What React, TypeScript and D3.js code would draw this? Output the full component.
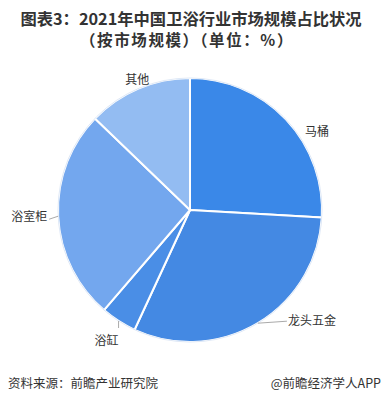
import React from "react";
import * as d3 from "d3";

const categories = ["马桶", "龙头五金", "浴缸", "浴室柜", "其他"];
const values = [25.9, 31.0, 4.4, 25.9, 12.8];
const colors = ["#3a88e8", "#4489e3", "#4a8ee6", "#73a7ee", "#93bcf2"];
// label layout: offset of label anchor from the slice's outer mid-point, and anchor
const labelLayout = [
  { dx: 19, dy: 11, anchor: "start", line: false, lx: 0, ly: 0 },
  { dx: 30, dy: -4, anchor: "start", line: true, lx: 29, ly: -2 },
  { dx: 0, dy: 18, anchor: "end", line: true, lx: 0, ly: 7 },
  { dx: -11, dy: -1, anchor: "end", line: true, lx: -9, ly: 3 },
  { dx: -1, dy: -10, anchor: "middle", line: false, lx: 0, ly: 0 },
];

const W = 384, H = 405;
const cx = 190, cy = 210, R = 132;
const FONT = "'Noto Sans CJK SC', 'Noto Sans', sans-serif";

export default function App() {
  const pie = d3.pie<number>().sort(null).value((d) => d);
  const arcs = pie(values);
  const arc = d3.arc<d3.PieArcDatum<number>>().innerRadius(0).outerRadius(R);

  return (
    <svg width={W} height={H} style={{ position: "absolute", left: 0, top: 0, background: "#fff" }}>
      <text x={191} y={25} textAnchor="middle" fontFamily={FONT} fontWeight={700} fontSize={16.3} fill="#333">
        图表3：2021年中国卫浴行业市场规模占比状况
      </text>
      <text x={187} y={46} textAnchor="middle" fontFamily={FONT} fontWeight={700} fontSize={15.5} letterSpacing={1.6} fill="#333">
        （按市场规模）（单位：%）
      </text>
      <g transform={`translate(${cx},${cy})`}>
        {arcs.map((a, i) => (
          <path key={i} d={arc(a) || ""} fill={colors[i]} stroke="#fff" strokeWidth={2} strokeLinejoin="round" />
        ))}
        <circle r={R} fill="none" stroke="#dfe9f7" strokeWidth={1} />
        {arcs.map((a, i) => {
          const mid = (a.startAngle + a.endAngle) / 2;
          const px = Math.sin(mid) * R;
          const py = -Math.cos(mid) * R;
          const L = labelLayout[i];
          return (
            <g key={"l" + i}>
              {L.line && (
                <polyline
                  points={`${px},${py} ${px + L.lx},${py + L.ly}`}
                  fill="none"
                  stroke="#aaa"
                  strokeWidth={1}
                />
              )}
              <text
                x={px + L.dx}
                y={py + L.dy}
                textAnchor={L.anchor as any}
                dominantBaseline="central"
                fontFamily={FONT}
                fontSize={12}
                fill="#333"
              >
                {categories[i]}
              </text>
            </g>
          );
        })}
      </g>
      <text x={8} y={388} fontFamily={FONT} fontSize={12.5} fill="#333">
        资料来源：前瞻产业研究院
      </text>
      <text x={381} y={388} textAnchor="end" fontFamily={FONT} fontSize={12.5} fill="#333">
        @前瞻经济学人APP
      </text>
    </svg>
  );
}
